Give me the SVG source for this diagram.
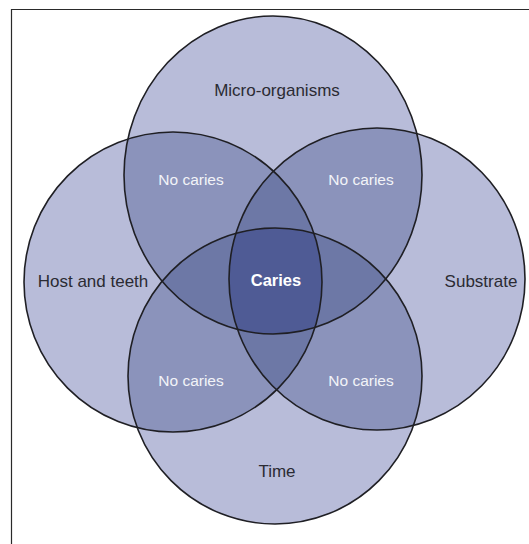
<svg xmlns="http://www.w3.org/2000/svg" xmlns:xlink="http://www.w3.org/1999/xlink" width="529" height="544" viewBox="0 0 529 544">
<style>
.f1{fill:#b8bcd9}
.f2{fill:#8b93bb}
.f3{fill:#6d78a6}
.f4{fill:#4f5b95}
.ol{fill:none;stroke:#1f1f24;stroke-width:1.6}
.lbl{font-family:"Liberation Sans",Arial,sans-serif;font-size:17px;fill:#2b2b33;text-anchor:middle}
.nc{font-family:"Liberation Sans",Arial,sans-serif;font-size:15.5px;fill:#f2f3f8;text-anchor:middle}
.car{font-family:"Liberation Sans",Arial,sans-serif;font-size:16.5px;font-weight:bold;fill:#ffffff;text-anchor:middle}
</style>
<defs>
<ellipse id="cT" cx="273" cy="175" rx="149" ry="159"/>
<ellipse id="cL" cx="173" cy="282" rx="149" ry="150"/>
<ellipse id="cR" cx="377" cy="279" rx="148" ry="151"/>
<ellipse id="cB" cx="275" cy="376" rx="147" ry="148"/>
<clipPath id="clipT"><use xlink:href="#cT"/></clipPath>
<clipPath id="clipL"><use xlink:href="#cL"/></clipPath>
<clipPath id="clipR"><use xlink:href="#cR"/></clipPath>
<clipPath id="clipB"><use xlink:href="#cB"/></clipPath>
</defs>
<rect x="0" y="0" width="529" height="544" fill="#ffffff"/>
<path d="M11.5 544 V9.5 H529" fill="none" stroke="#2a2a2a" stroke-width="1.2"/>
<g id="regions">
<use xlink:href="#cT" class="f1"/>
<use xlink:href="#cL" class="f1"/>
<use xlink:href="#cR" class="f1"/>
<use xlink:href="#cB" class="f1"/>
<g clip-path="url(#clipT)"><use xlink:href="#cL" class="f2"/><use xlink:href="#cR" class="f2"/><use xlink:href="#cB" class="f2"/></g>
<g clip-path="url(#clipL)"><use xlink:href="#cR" class="f2"/><use xlink:href="#cB" class="f2"/></g>
<g clip-path="url(#clipR)"><use xlink:href="#cB" class="f2"/></g>
<g clip-path="url(#clipT)"><g clip-path="url(#clipL)"><use xlink:href="#cR" class="f3"/><use xlink:href="#cB" class="f3"/></g></g>
<g clip-path="url(#clipT)"><g clip-path="url(#clipR)"><use xlink:href="#cB" class="f3"/></g></g>
<g clip-path="url(#clipL)"><g clip-path="url(#clipR)"><use xlink:href="#cB" class="f3"/></g></g>
<g clip-path="url(#clipT)"><g clip-path="url(#clipL)"><g clip-path="url(#clipR)"><use xlink:href="#cB" class="f4"/></g></g></g>
</g>
<g id="micro-organisms"><use xlink:href="#cT" class="ol"/><text class="lbl" x="277" y="96">Micro-organisms</text></g>
<g id="host-and-teeth"><use xlink:href="#cL" class="ol"/><text class="lbl" x="93" y="287">Host and teeth</text></g>
<g id="substrate"><use xlink:href="#cR" class="ol"/><text class="lbl" x="481" y="287">Substrate</text></g>
<g id="time"><use xlink:href="#cB" class="ol"/><text class="lbl" x="277" y="477">Time</text></g>
<g id="no-caries-tl"><text class="nc" x="191" y="185">No caries</text></g>
<g id="no-caries-tr"><text class="nc" x="361" y="185">No caries</text></g>
<g id="no-caries-bl"><text class="nc" x="191" y="386">No caries</text></g>
<g id="no-caries-br"><text class="nc" x="361" y="386">No caries</text></g>
<g id="caries"><text class="car" x="276" y="286">Caries</text></g>
</svg>
